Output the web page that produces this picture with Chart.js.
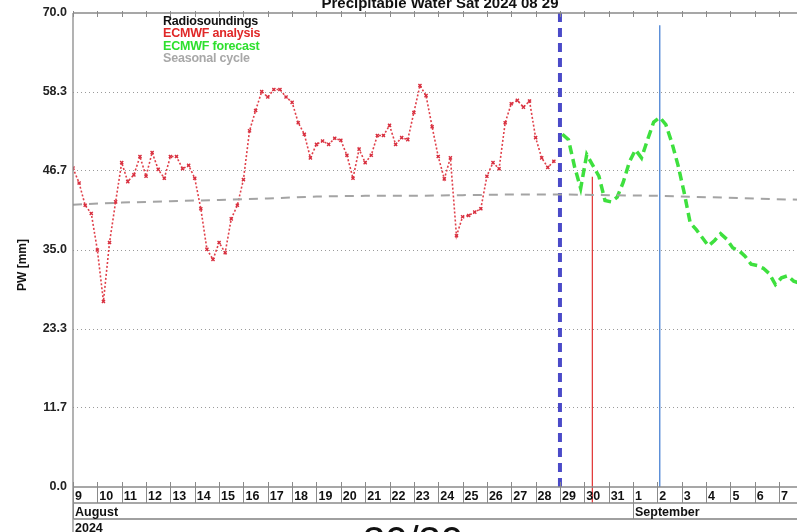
<!DOCTYPE html>
<html>
<head>
<meta charset="utf-8">
<script src="https://cdn.jsdelivr.net/npm/chart.js@4.4.1/dist/chart.umd.min.js"></script>
<style>
  html, body { margin: 0; padding: 0; background: #fff; overflow: hidden; width: 797px; height: 532px; }
  #wrap { position: absolute; left: 0; top: 0; width: 840px; height: 532px; }
  .txt { position: absolute; font-family: "Liberation Sans", Arial, sans-serif; white-space: nowrap; }
  #title { left: 0; width: 880px; top: -5px; text-align: center; font-weight: bold; font-size: 15px; line-height: 15px; color: #111; }
  #legend { left: 163px; top: 15px; font-weight: bold; font-size: 12.5px; line-height: 12.4px; letter-spacing: -0.2px; }
  #ylab { left: 22px; top: 265px; font-weight: bold; font-size: 12px; transform: translate(-50%, -50%) rotate(-90deg); color: #111; }
  #page { left: 313px; width: 200px; top: 521px; text-align: center; font-size: 40px; line-height: 40px; color: #111; }
</style>
</head>
<body>
<div id="wrap"><canvas id="pw"></canvas></div>
<div class="txt" id="title">Precipitable Water Sat 2024 08 29</div>
<div class="txt" id="legend">
  <div style="color:#111">Radiosoundings</div>
  <div style="color:#e02828">ECMWF analysis</div>
  <div style="color:#2ee02e">ECMWF forecast</div>
  <div style="color:#a8a8a8">Seasonal cycle</div>
</div>
<div class="txt" id="ylab">PW [mm]</div>
<div class="txt" id="page">30/30</div>
<script>
// --- Daten (x in Tagen ab 9. August 00 UTC) ---
var stepDays = 0.25;                       // 6-stündlich
var analysisStart = 0;
var analysisPW = [
  47.1, 44.9, 41.6, 40.4, 35.0, 27.4, 36.1, 42.1,
  47.9, 45.1, 46.1, 48.8, 45.9, 49.4, 46.9, 45.6,
  48.8, 48.8, 47.0, 47.5, 45.6, 41.1, 35.1, 33.6,
  36.1, 34.6, 39.6, 41.6, 45.4, 52.6, 55.6, 58.4,
  57.6, 58.7, 58.7, 57.6, 56.8, 53.8, 52.1, 48.6,
  50.6, 51.1, 50.6, 51.5, 51.2, 49.0, 45.6, 49.9,
  47.9, 49.0, 51.9, 51.9, 53.4, 50.6, 51.6, 51.3,
  55.3, 59.3, 57.8, 53.2, 48.8, 45.5, 48.6, 37.1,
  39.9, 40.1, 40.6, 41.1, 45.9, 47.9, 47.0, 53.8,
  56.6, 57.1, 56.1, 57.0, 51.6, 48.6, 47.2, 48.1
];
var forecastStart = 20.1;
var forecastPW = [
  52.1, 51.3, 47.3, 44.1, 49.1, 47.5, 45.9, 42.3,
  42.1, 42.8, 45.0, 48.0, 49.8, 48.6, 51.3, 53.9,
  54.6, 53.5, 50.8, 47.5, 43.5, 39.0, 38.0, 36.8,
  35.6, 36.4, 37.4, 36.6, 35.3, 34.9, 34.1, 32.9,
  32.7, 32.3, 31.5, 29.9, 30.9, 31.2, 30.4, 30.1
];
var seasonalStep = 2;
var seasonalPW = [41.7, 42.0, 42.2, 42.4, 42.6, 42.9, 43.0, 43.0, 43.1, 43.2, 43.2, 43.1, 43.0, 42.8, 42.6, 42.4];

// Markierungen
var runDay = 20;                    // Analyse-/Vorhersagegrenze (blau gestrichelt)
var redMarkDay = 21.33, redMarkTop = 45.8;
var blueMarkDay = 24.1, blueMarkTop = 68.2;

// Achsen
var yTicks = [0, 11.667, 23.333, 35, 46.667, 58.333, 70];
var yTickLabels = ['0.0', '11.7', '23.3', '35.0', '46.7', '58.3', '70.0'];
var dayLabels = ['9','10','11','12','13','14','15','16','17','18','19','20','21','22','23','24','25','26','27','28','29','30','31','1','2','3','4','5','6','7','8'];
var monthLabels = ['August', 'September'];
var monthStartDay = [0, 23];
var yearLabel = '2024';

function series(vals, start, step) {
  return vals.map(function (v, i) { return { x: start + i * step, y: v }; });
}

var FONT = '"Liberation Sans", Arial, sans-serif';

// Rahmen, Tagesleiste und Achsenbeschriftung
var axisDeco = {
  id: 'axisDeco',
  afterDraw: function (chart) {
    var ctx = chart.ctx, a = chart.chartArea, xs = chart.scales.x, ys = chart.scales.y;
    ctx.save();
    ctx.strokeStyle = '#8a8a8a'; ctx.lineWidth = 1.3;
    ctx.beginPath();
    ctx.moveTo(a.left, a.top); ctx.lineTo(a.right, a.top);
    ctx.moveTo(a.left, a.top); ctx.lineTo(a.left, 532);
    ctx.moveTo(a.left, a.bottom); ctx.lineTo(a.right, a.bottom);
    ctx.moveTo(a.left, a.bottom + 16); ctx.lineTo(a.right, a.bottom + 16);
    ctx.stroke();
    ctx.strokeStyle = '#a0a0a0'; ctx.lineWidth = 2.2;
    ctx.beginPath(); ctx.moveTo(a.left, a.bottom + 32); ctx.lineTo(a.right, a.bottom + 32); ctx.stroke();

    // Tagesticks oben / unten
    ctx.strokeStyle = '#8a8a8a'; ctx.lineWidth = 1;
    ctx.beginPath();
    dayLabels.forEach(function (d, i) {
      var px = Math.round(xs.getPixelForValue(i)) + 0.5;
      ctx.moveTo(px, a.top - 2); ctx.lineTo(px, a.top + 4);
      ctx.moveTo(px, a.bottom - 5); ctx.lineTo(px, a.bottom + 16);
    });
    monthStartDay.forEach(function (d) {
      var px = Math.round(xs.getPixelForValue(d)) + 0.5;
      ctx.moveTo(px, a.bottom + 16); ctx.lineTo(px, a.bottom + 32);
    });
    ctx.stroke();

    ctx.fillStyle = '#111';
    ctx.font = 'bold 12.5px ' + FONT;
    ctx.textBaseline = 'alphabetic'; ctx.textAlign = 'left';
    dayLabels.forEach(function (d, i) {
      ctx.fillText(d, xs.getPixelForValue(i) + 2, a.bottom + 13);
    });
    monthLabels.forEach(function (m, i) {
      ctx.fillText(m, xs.getPixelForValue(monthStartDay[i]) + 2, a.bottom + 29);
    });
    ctx.fillText(yearLabel, a.left + 2, a.bottom + 45);

    // y-Beschriftung
    ctx.textAlign = 'right'; ctx.textBaseline = 'middle';
    ctx.fillStyle = '#222';
    yTicks.forEach(function (v, i) {
      ctx.fillText(yTickLabels[i], a.left - 6, ys.getPixelForValue(v));
    });
    ctx.restore();
  }
};

new Chart(document.getElementById('pw').getContext('2d'), {
  type: 'line',
  data: {
    datasets: [
      { label: 'Seasonal cycle', data: series(seasonalPW, 0, seasonalStep), borderColor: '#a4a4a4', borderWidth: 2, borderDash: [9, 7], pointRadius: 0 },
      { label: 'ECMWF analysis', data: series(analysisPW, analysisStart, stepDays), borderColor: '#e0404a', borderWidth: 1.6, borderDash: [2, 2],
        pointStyle: 'crossRot', pointRadius: 2.2, pointBorderColor: '#d83040', pointBorderWidth: 1.4 },
      { label: 'ECMWF forecast', data: series(forecastPW, forecastStart, stepDays), borderColor: '#3ee03e', borderWidth: 3.5, borderDash: [9, 5], pointRadius: 0 },
      { label: 'run', data: [{ x: runDay, y: 0 }, { x: runDay, y: 70 }], borderColor: '#4a4ac8', borderWidth: 4, borderDash: [9, 6], pointRadius: 0 },
      { label: 'mark1', data: [{ x: redMarkDay, y: -2.4 }, { x: redMarkDay, y: redMarkTop }], borderColor: '#e03030', borderWidth: 1.2, pointRadius: 0, clip: false },
      { label: 'mark2', data: [{ x: blueMarkDay, y: 0 }, { x: blueMarkDay, y: blueMarkTop }], borderColor: '#3a78d0', borderWidth: 1.2, pointRadius: 0 }
    ]
  },
  options: {
    responsive: true, maintainAspectRatio: false, animation: false,
    layout: { padding: { left: 73, top: 13, right: 0, bottom: 45 } },
    plugins: { legend: { display: false }, tooltip: { enabled: false } },
    elements: { line: { tension: 0 } },
    scales: {
      x: { type: 'linear', min: 0, max: 31.28, display: false },
      y: {
        min: 0, max: 70,
        afterBuildTicks: function (s) { s.ticks = yTicks.map(function (v) { return { value: v }; }); },
        afterFit: function (s) { s.width = 0; },
        ticks: { display: false },
        border: { display: false, dash: [1, 3] },
        grid: {
          drawTicks: false, lineWidth: 1,
          color: function (c) { return (c.tick && (c.tick.value === 0 || c.tick.value === 70)) ? 'rgba(0,0,0,0)' : '#9a9a9a'; }
        }
      }
    }
  },
  plugins: [axisDeco]
});
</script>
</body>
</html>
